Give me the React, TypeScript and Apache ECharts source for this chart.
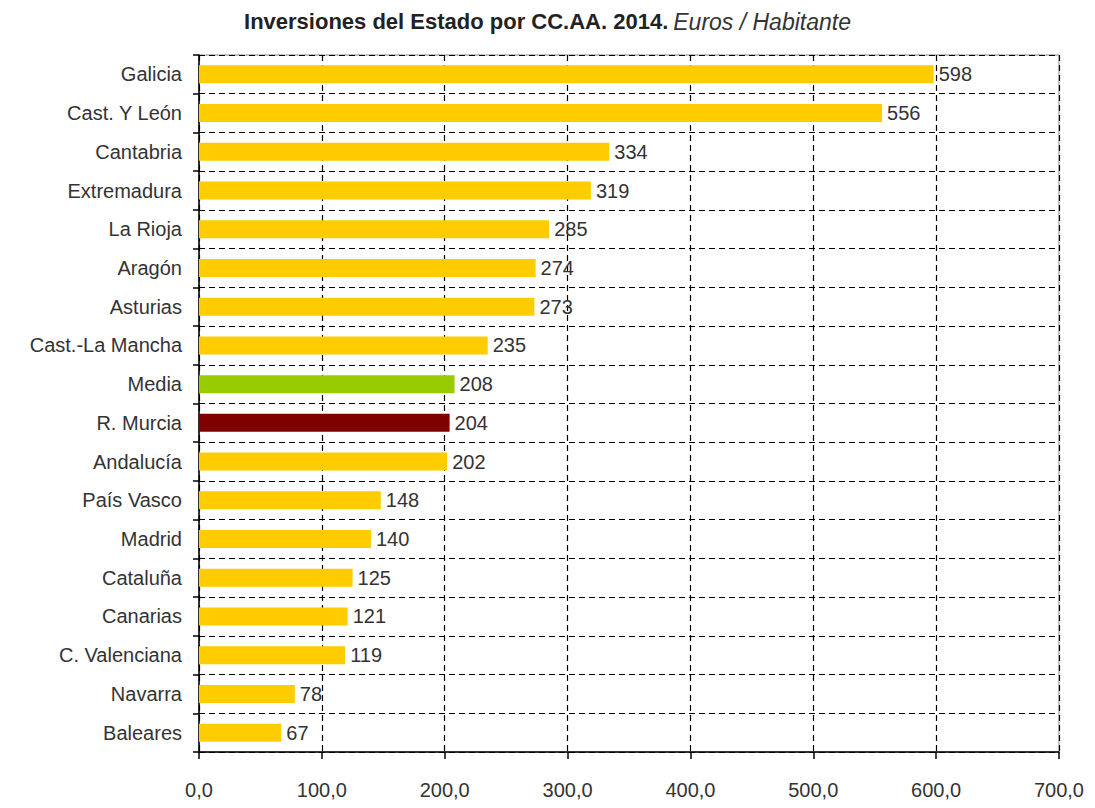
import React, { useEffect, useRef } from "react";
import * as echarts from "echarts";

const categories = [
  "Galicia",
  "Cast. Y León",
  "Cantabria",
  "Extremadura",
  "La Rioja",
  "Aragón",
  "Asturias",
  "Cast.-La Mancha",
  "Media",
  "R. Murcia",
  "Andalucía",
  "País Vasco",
  "Madrid",
  "Cataluña",
  "Canarias",
  "C. Valenciana",
  "Navarra",
  "Baleares",
];

const values = [598, 556, 334, 319, 285, 274, 273, 235, 208, 204, 202, 148, 140, 125, 121, 119, 78, 67];

const xTicks = [0, 100, 200, 300, 400, 500, 600, 700];

const COLOR_DEFAULT = "#FFCC00";
const highlightColors: Record<string, string> = {
  Media: "#99CC00",
  "R. Murcia": "#800000",
};

const FONT = "'Liberation Sans', Arial, sans-serif";

export default function App() {
  const ref = useRef<HTMLDivElement>(null);

  useEffect(() => {
    if (!ref.current) return;
    const chart = echarts.init(ref.current, null, { renderer: "svg" });
    const dash = { color: "#000", width: 1.2, type: [6, 4] as number[] };
    chart.setOption({
      animation: false,
      backgroundColor: "#fff",
      title: {
        text: "{b|Inversiones del Estado por CC.AA. 2014.} {i|Euros / Habitante}",
        left: "center",
        top: -3,
        textStyle: {
          rich: {
            b: { fontFamily: FONT, fontSize: 22, fontWeight: "bold", color: "#222" },
            i: { fontFamily: FONT, fontSize: 23, fontWeight: "normal", fontStyle: "italic", color: "#333" },
          },
        },
      },
      grid: {
        left: 191,
        right: 27,
        top: 47,
        bottom: 40,
        show: true,
        borderColor: "#888",
        borderWidth: 1,
        backgroundColor: "transparent",
      },
      xAxis: {
        type: "value",
        min: xTicks[0],
        max: xTicks[xTicks.length - 1],
        interval: 100,
        axisLine: { show: true, lineStyle: { color: "#000", width: 1.5 } },
        axisTick: { show: true, length: 7, lineStyle: { color: "#000", width: 1.5 } },
        axisLabel: {
          fontFamily: FONT,
          fontSize: 20,
          color: "#333",
          margin: 28,
          formatter: (v: number) => v.toFixed(1).replace(".", ","),
        },
        splitLine: { show: true, lineStyle: dash },
      },
      yAxis: {
        type: "category",
        inverse: true,
        data: categories,
        axisLine: { show: true, lineStyle: { color: "#000", width: 1.5 } },
        axisTick: { show: true, length: 6, lineStyle: { color: "#000", width: 1.5 } },
        axisLabel: {
          fontFamily: FONT,
          fontSize: 20,
          color: "#333",
          margin: 17,
        },
        splitLine: { show: true, lineStyle: dash },
      },
      series: [
        {
          type: "bar",
          data: values.map((v, i) => ({
            value: v,
            itemStyle: { color: highlightColors[categories[i]] || COLOR_DEFAULT },
          })),
          barWidth: 18,
          label: {
            show: true,
            position: "right",
            distance: 5,
            fontFamily: FONT,
            fontSize: 20,
            color: "#333",
          },
        },
      ],
    });
    return () => chart.dispose();
  }, []);

  return <div ref={ref} style={{ width: 1079, height: 792 }} />;
}
